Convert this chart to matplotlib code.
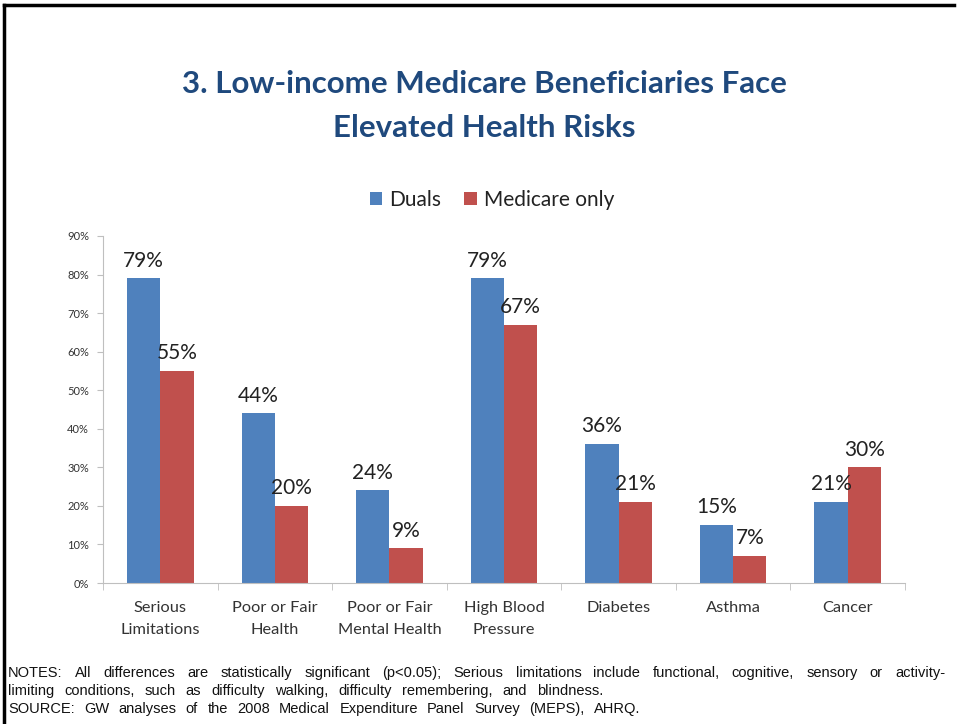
import matplotlib
matplotlib.use("Agg")
import matplotlib.pyplot as plt
import numpy as np
from matplotlib.ticker import FuncFormatter
from matplotlib.lines import Line2D

categories = ["Serious\nLimitations", "Poor or Fair\nHealth", "Poor or Fair\nMental Health",
              "High Blood\nPressure", "Diabetes", "Asthma", "Cancer"]
duals = [79, 44, 24, 79, 36, 15, 21]
medicare_only = [55, 20, 9, 67, 21, 7, 30]
series_names = ["Duals", "Medicare only"]
yticks = [0, 10, 20, 30, 40, 50, 60, 70, 80, 90]

title = "3. Low-income Medicare Beneficiaries Face\nElevated Health Risks"
notes = ["NOTES: All differences are statistically significant (p<0.05); Serious limitations include functional, cognitive, sensory or activity-",
         "limiting conditions, such as difficulty walking, difficulty remembering, and blindness.",
         "SOURCE: GW analyses of the 2008 Medical Expenditure Panel Survey (MEPS), AHRQ."]
note_right_px = [945, 603, 640]

blue = "#4F81BD"
red = "#C0504D"
fam = ["Lato", "DejaVu Sans"]
W, H = 957, 724

fig = plt.figure(figsize=(9.57, 7.24), dpi=100)
ax = fig.add_axes([103 / W, 1 - 583 / H, 802 / W, (583 - 236) / H])

x = np.arange(len(categories))
w = 0.29
b1 = ax.bar(x - w / 2, duals, w, color=blue, label=series_names[0])
b2 = ax.bar(x + w / 2, medicare_only, w, color=red, label=series_names[1])

for bars, vals in ((b1, duals), (b2, medicare_only)):
    for r, v in zip(bars, vals):
        ax.text(r.get_x() + r.get_width() / 2, v + 2.0, f"{v}%", ha="center", va="bottom",
                fontsize=15, color="#222222", family=fam)

ax.set_xlim(-0.5, len(categories) - 0.5)
ax.set_ylim(0, 90)
ax.set_yticks(yticks)
ax.yaxis.set_major_formatter(FuncFormatter(lambda v, p: f"{int(v)}%"))
ax.set_xticks(x)
ax.set_xticklabels(categories, fontsize=11.8, family=fam, color="#333333", linespacing=1.75)
ax.set_xticks(np.arange(len(categories) + 1) - 0.5, minor=True)
ax.tick_params(axis="x", which="major", length=0, pad=13)
ax.tick_params(axis="x", which="minor", length=5, color="#BFBFBF")
ax.tick_params(axis="y", length=4, color="#BFBFBF", labelsize=8, labelcolor="#333333", pad=6)
for lab in ax.get_yticklabels():
    lab.set_family(fam)
for s in ("top", "right"):
    ax.spines[s].set_visible(False)
ax.spines["left"].set_color("#BFBFBF")
ax.spines["bottom"].set_color("#BFBFBF")

fig.text(484 / W, 1 - 106 / H, title, ha="center", va="center", fontsize=22.5,
         fontweight="bold", color="#1F497D", family=fam, linespacing=1.72)

leg = fig.legend(handles=[b1, b2], labels=series_names, loc="center",
                 bbox_to_anchor=(492 / W, 1 - 200 / H), ncol=2, frameon=False,
                 prop={"family": fam, "size": 15}, handlelength=0.6, handleheight=0.6,
                 handletextpad=0.35, columnspacing=1.1)
for t in leg.get_texts():
    t.set_color("#222222")

# justified notes: words spread across the measured line widths
renderer = fig.canvas.get_renderer()
nfam = ["Liberation Sans", "DejaVu Sans"]
for i, line in enumerate(notes):
    words = line.split(" ")
    y = 1 - (677 + 18 * i) / H
    texts = [fig.text(0, y, wd, ha="left", va="baseline", fontsize=10.5, family=nfam,
                      color="#111111") for wd in words]
    widths = [t.get_window_extent(renderer).width for t in texts]
    left, right = 8, note_right_px[i]
    gap = (right - left - sum(widths)) / max(len(words) - 1, 1)
    pos = left
    for t, wd in zip(texts, widths):
        t.set_x(pos / W)
        pos += wd + gap

fig.add_artist(Line2D([4 / W, 4 / W], [0, 1 - 5 / H], transform=fig.transFigure,
                      color="black", lw=2.5))
fig.add_artist(Line2D([4 / W, 954 / W], [1 - 5 / H, 1 - 5 / H], transform=fig.transFigure,
                      color="black", lw=2.5))

fig.savefig("out.png", dpi=100)
